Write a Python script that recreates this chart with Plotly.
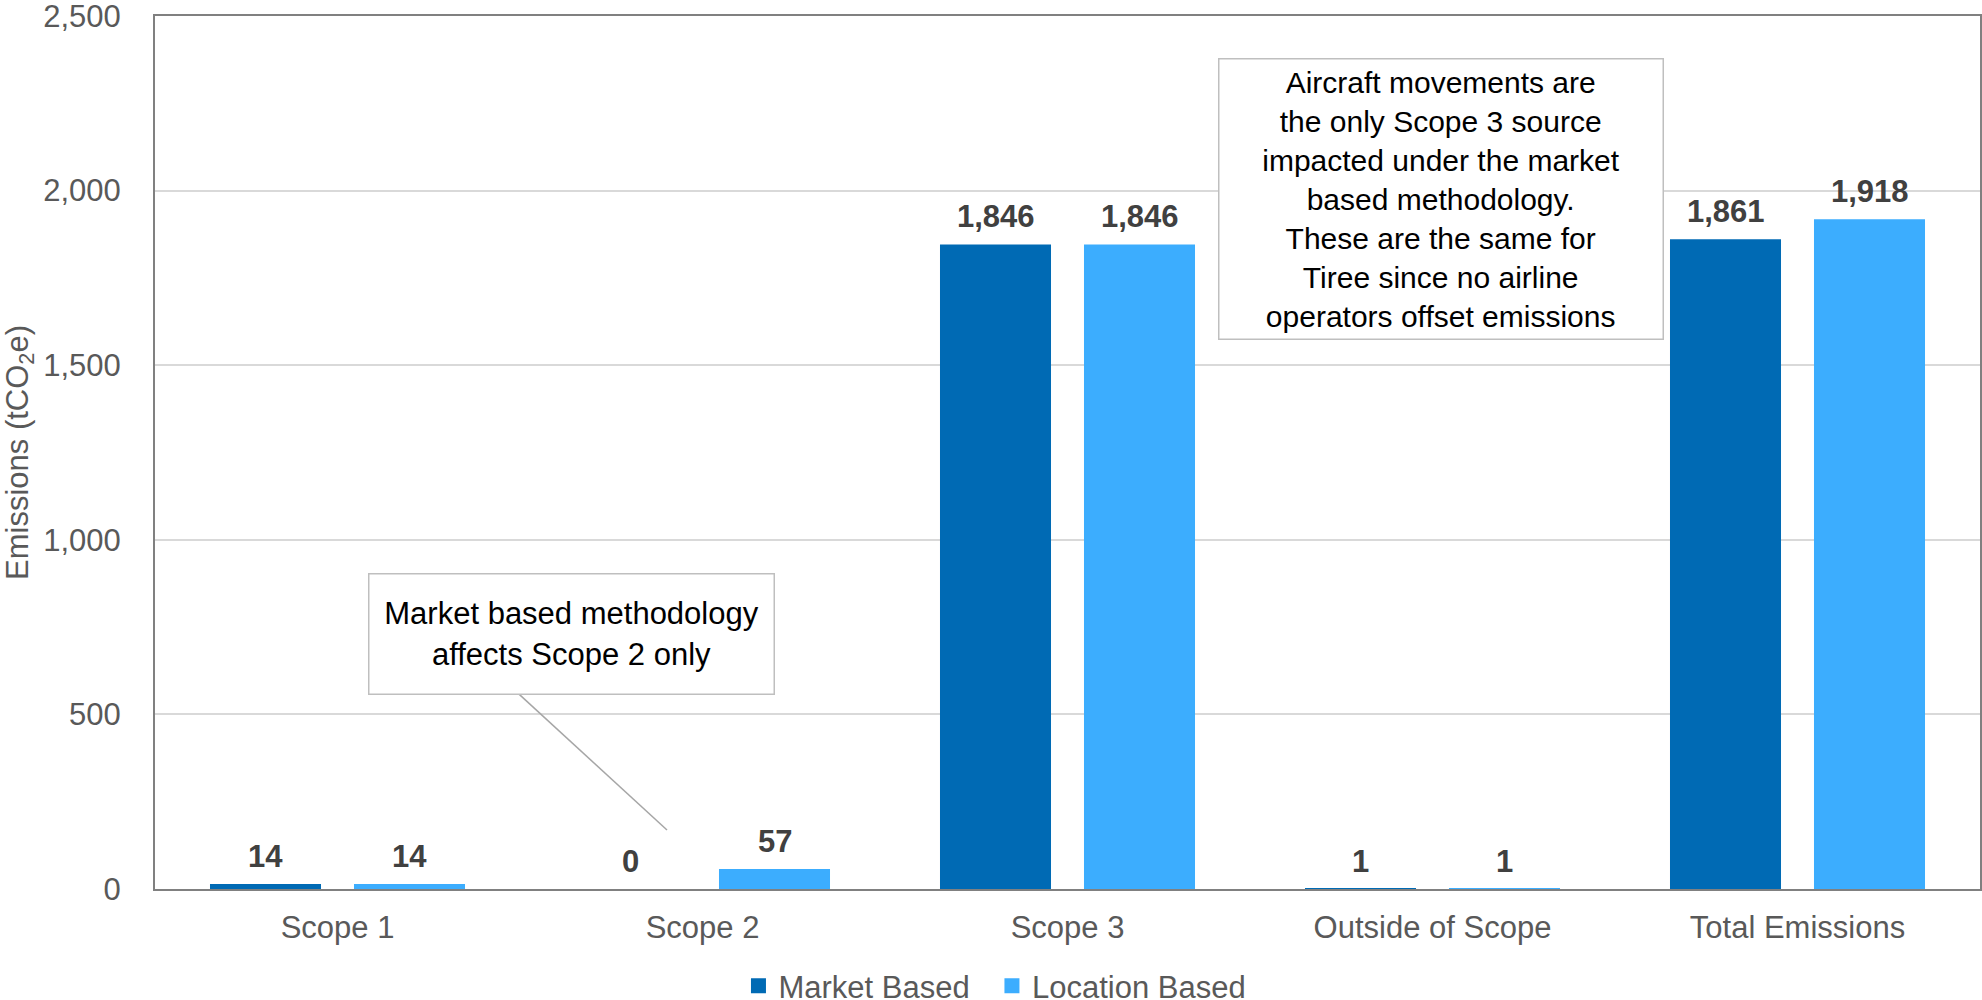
import plotly.graph_objects as go

categories = ["Scope 1", "Scope 2", "Scope 3", "Outside of Scope", "Total Emissions"]
market_based = [14, 0, 1846, 1, 1861]
location_based = [14, 57, 1846, 1, 1918]
series_names = ["Market Based", "Location Based"]
y_tickvals = [0, 500, 1000, 1500, 2000, 2500]

FONT = "Arial, 'Liberation Sans', sans-serif"
DARK = "#006AB4"
LIGHT = "#3CADFE"
W, H = 1982, 1000
L, R, T, B = 155, 2, 15.5, 111

fig = go.Figure()
fig.add_trace(go.Bar(x=categories, y=market_based, name=series_names[0],
                     marker=dict(color=DARK, line=dict(width=0)), showlegend=False))
fig.add_trace(go.Bar(x=categories, y=location_based, name=series_names[1],
                     marker=dict(color=LIGHT, line=dict(width=0)), showlegend=False))

# legend-only entries with square swatches
for name, color, pad in ((series_names[0], DARK, "\u00a0\u00a0"), (series_names[1], LIGHT, "")):
    fig.add_trace(go.Scatter(x=[None], y=[None], mode="markers", name=name + pad,
                             marker=dict(symbol="square", size=15, color=color),
                             showlegend=True, hoverinfo="skip"))

bargap = 0.211
bargroupgap = 0.229
offset = (1 - bargap) / 4.0

annotations = []
for series, sign in ((market_based, -1), (location_based, 1)):
    for i, v in enumerate(series):
        annotations.append(dict(
            x=i + sign * offset, y=v, xref="x", yref="y",
            text=f"<b>{v:,}</b>", showarrow=False,
            yanchor="bottom", xanchor="center", yshift=8,
            font=dict(family=FONT, size=31, color="#404040"),
        ))

pw = W - L - R
ph = H - T - B

def px_x(x):
    return (x - L) / pw

def px_y(y):
    return (H - B - y) / ph

# Annotation boxes
annotations.append(dict(
    x=px_x(571.5), y=px_y(634), xref="paper", yref="paper",
    text="Market based methodology<br>affects Scope 2 only",
    showarrow=False, xanchor="center", yanchor="middle",
    width=404, height=119, borderpad=0,
    bgcolor="white", bordercolor="#BFBFBF", borderwidth=1.5,
    font=dict(family=FONT, size=31, color="#000000"), align="center",
))
annotations.append(dict(
    x=px_x(1441), y=px_y(199), xref="paper", yref="paper",
    text=("Aircraft movements are<br>the only Scope 3 source<br>impacted under the market<br>"
          "based methodology.<br>These are the same for<br>Tiree since no airline<br>"
          "operators offset emissions"),
    showarrow=False, xanchor="center", yanchor="middle",
    width=443, height=279, borderpad=0,
    bgcolor="white", bordercolor="#BFBFBF", borderwidth=1.5,
    font=dict(family=FONT, size=30, color="#000000"), align="center",
))

shapes = [dict(type="line", xref="paper", yref="paper",
               x0=px_x(519), y0=px_y(694), x1=px_x(667), y1=px_y(830),
               line=dict(color="#A6A6A6", width=1.5))]

fig.update_layout(
    width=W, height=H,
    margin=dict(l=L, r=R, t=T, b=B, pad=0, autoexpand=False),
    paper_bgcolor="white", plot_bgcolor="white",
    barmode="group", bargap=bargap, bargroupgap=bargroupgap,
    font=dict(family=FONT, size=31, color="#595959"),
    showlegend=True,
    legend=dict(orientation="h", xref="container", yref="container",
                x=0.502, xanchor="center", y=0.014, yanchor="middle",
                font=dict(family=FONT, size=31, color="#595959"),
                itemsizing="trace", traceorder="normal",
                bgcolor="rgba(0,0,0,0)"),
    annotations=annotations,
    shapes=shapes,
)

fig.update_xaxes(
    type="category", showgrid=False, showline=True, linecolor="#808080", linewidth=2,
    mirror=True, ticks="outside", ticklen=10, tickcolor="rgba(0,0,0,0)",
    tickfont=dict(family=FONT, size=31, color="#595959"), zeroline=False,
    tickangle=0, automargin=False,
)
fig.update_yaxes(
    range=[0, 2500], tickvals=y_tickvals, tickformat=",",
    showgrid=True, gridcolor="#D9D9D9", gridwidth=1.5,
    showline=True, linecolor="#808080", linewidth=2, mirror=True,
    ticks="outside", ticklen=26, tickcolor="rgba(0,0,0,0)",
    ticklabeloverflow="allow", automargin=False,
    tickfont=dict(family=FONT, size=31, color="#595959"), zeroline=False,
    title=dict(text="Emissions (tCO<sub>2</sub>e)", standoff=8,
               font=dict(family=FONT, size=31, color="#595959")),
)

fig.write_html("out.html", config={"displayModeBar": False},
               post_script="document.body.style.margin='0';document.body.style.overflow='hidden';")
